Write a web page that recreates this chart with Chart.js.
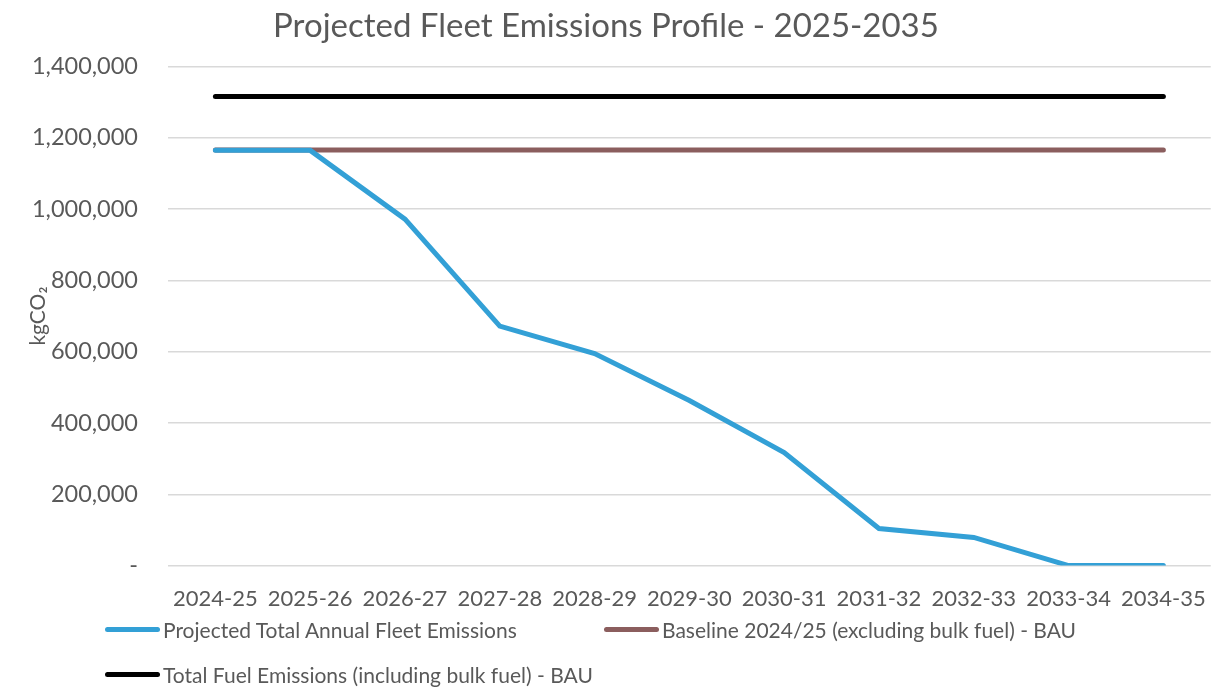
<!DOCTYPE html>
<html>
<head>
<meta charset="utf-8">
<script src="https://cdn.jsdelivr.net/npm/chart.js@4.4.1/dist/chart.umd.min.js"></script>
<style>
    body { margin: 0; background: #fff; font-family: Lato, sans-serif; }
    #wrap { position: relative; width: 1218px; height: 688px; }
    #legend { position: absolute; left: 105px; top: 607px; width: 1100px; display: flex; flex-wrap: wrap; }
    .item { width: 499px; height: 45px; display: flex; align-items: center; color: #595959; font-size: 21px; }
    .swatch { width: 55px; height: 5px; border-radius: 3px; margin-right: 3px; }
</style>
</head>
<body>
<div id="wrap">
    <canvas id="emissions-graph" width="1218" height="688"></canvas>
    <div id="legend"></div>
</div>
<script>
const years = ['2024-25', '2025-26', '2026-27', '2027-28', '2028-29', '2029-30', '2030-31', '2031-32', '2032-33', '2033-34', '2034-35'];
const projectedEmissions = [1165000, 1165000, 972000, 672000, 595000, 463000, 317000, 104000, 79000, 0, 0];
const baselineEmissions = [1166000, 1166000, 1166000, 1166000, 1166000, 1166000, 1166000, 1166000, 1166000, 1166000, 1166000];
const totalFuelEmissions = [1316000, 1316000, 1316000, 1316000, 1316000, 1316000, 1316000, 1316000, 1316000, 1316000, 1316000];
const yTicks = [0, 200000, 400000, 600000, 800000, 1000000, 1200000, 1400000];

const grey = '#595959';
const seriesInfo = [
    { label: 'Projected Total Annual Fleet Emissions', data: projectedEmissions, color: '#33a0d6' },
    { label: 'Baseline 2024/25 (excluding bulk fuel) - BAU', data: baselineEmissions, color: '#8b5e5e' },
    { label: 'Total Fuel Emissions (including bulk fuel) - BAU', data: totalFuelEmissions, color: '#000000' }
];

function emissionsGraph() { // builds the line chart and the legend underneath
    const ctx = document.getElementById('emissions-graph').getContext('2d');
    new Chart(ctx, {
        type: 'line',
        data: {
            labels: years,
            datasets: seriesInfo.map(s => ({
                label: s.label,
                data: s.data,
                borderColor: s.color,
                backgroundColor: s.color,
                borderWidth: 5,
                pointRadius: 0,
                tension: 0,
                fill: false,
                borderCapStyle: 'round'
            }))
        },
        options: {
            responsive: false,
            animation: false,
            layout: { padding: { left: 0, right: 6, top: 0, bottom: 64 } },
            plugins: {
                legend: { display: false },
                tooltip: { enabled: false },
                title: {
                    display: true,
                    text: 'Projected Fleet Emissions Profile - 2025-2035',
                    color: grey,
                    font: { family: 'Lato', size: 33, weight: 'normal' },
                    padding: { top: 7, bottom: 20 }
                }
            },
            scales: {
                x: {
                    offset: true,
                    grid: { display: false },
                    border: { display: false },
                    ticks: { color: grey, font: { family: 'Lato', size: 22 }, maxRotation: 0, autoSkip: false, padding: 12 }
                },
                y: {
                    min: 0,
                    max: 1400000,
                    afterBuildTicks: axis => { axis.ticks = yTicks.map(v => ({ value: v })); },
                    afterFit: axis => { axis.width = 168; }, // title sits beside the shorter labels, like the original
                    grid: { color: '#d9d9d9', lineWidth: 1.5, drawTicks: false },
                    border: { display: false },
                    title: { display: true, text: 'kgCO₂', color: grey, font: { family: 'Lato', size: 21 }, padding: { top: 26, bottom: 0 } },
                    ticks: {
                        color: grey,
                        font: { family: 'Lato', size: 23.5 },
                        padding: 30,
                        callback: v => v === 0 ? '-' : v.toLocaleString('en-US')
                    }
                }
            }
        }
    });

    const legend = document.getElementById('legend');
    seriesInfo.forEach(s => {
        const item = document.createElement('div');
        item.className = 'item';
        item.innerHTML = '<span class="swatch" style="background:' + s.color + '"></span>' + s.label;
        legend.appendChild(item);
    });
}

window.onload = () => {
    emissionsGraph();
}
</script>
</body>
</html>
